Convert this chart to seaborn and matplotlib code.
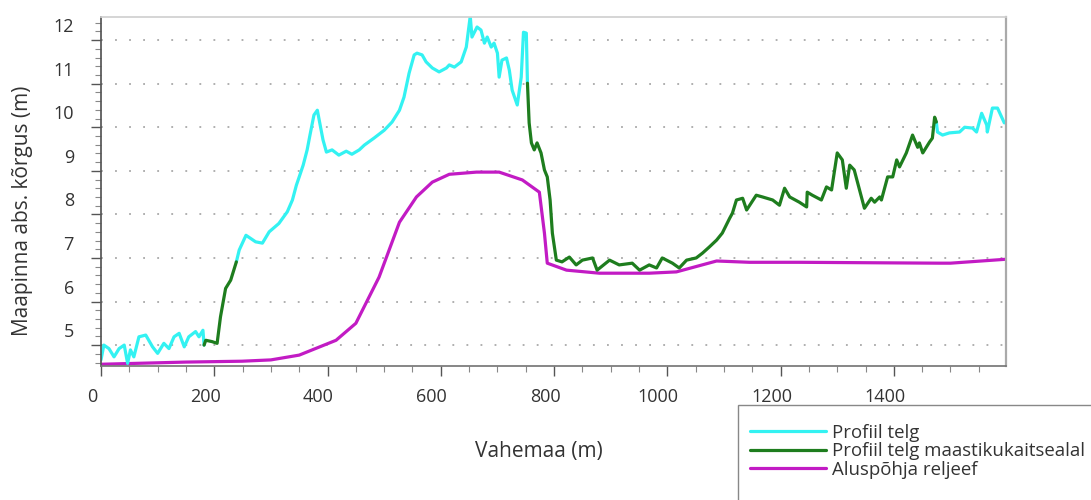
import numpy as np
import pandas as pd
import matplotlib
matplotlib.use('Agg')
import matplotlib.pyplot as plt
import matplotlib.transforms as mtransforms
from matplotlib.lines import Line2D
from matplotlib.patches import Rectangle
import seaborn as sns

# Ground profile along the axis (distance in m, elevation in m)
profile_dist = [0, 5, 14, 23, 32, 41, 47, 52, 58, 67, 79, 91, 100, 111, 120, 129, 138, 147, 155, 167, 173, 180,
                182, 185, 196, 205, 211, 220, 229, 239,
                244, 256, 273, 285, 297, 314, 329, 338, 345, 350, 357, 364, 369, 376, 382, 387, 392, 398,
                408, 420, 433, 443, 456, 465, 482, 500, 514, 527, 535, 544, 553, 558, 567, 574, 585, 597,
                610, 615, 624, 636, 645, 652, 655, 664, 671, 677, 682, 689, 694, 700, 703, 708, 716, 721,
                726, 735, 742, 746, 751, 753,
                756, 760, 765, 770, 777, 783, 788, 793, 797, 804, 814, 827, 839, 850, 868, 876, 898, 915,
                938, 951, 968, 981, 991, 1009, 1021, 1034, 1051, 1062, 1074, 1087, 1097, 1110, 1115, 1122,
                1133, 1140, 1157, 1168, 1186, 1198, 1207, 1216, 1233, 1246, 1247, 1256, 1272, 1281, 1290,
                1300, 1309, 1316, 1322, 1330, 1348, 1360, 1366, 1375, 1378, 1389, 1398, 1405, 1410, 1422,
                1433, 1442, 1445, 1451, 1463, 1468, 1472, 1475,
                1477, 1486, 1498, 1516, 1525, 1539, 1546, 1555, 1564, 1565, 1574, 1583, 1595]
profile_elev = [4.66, 5.0, 4.92, 4.73, 4.92, 5.0, 4.58, 4.89, 4.73, 5.19, 5.23, 4.96, 4.81, 5.04, 4.92, 5.19,
                5.27, 4.96, 5.19, 5.31, 5.19, 5.34,
                5.0, 5.11, 5.08, 5.04, 5.65, 6.3, 6.49, 6.91,
                7.18, 7.52, 7.37, 7.34, 7.6, 7.79, 8.06, 8.33, 8.67, 8.86, 9.13, 9.48, 9.82, 10.28, 10.39,
                10.05, 9.71, 9.43,
                9.48, 9.36, 9.45, 9.38, 9.48, 9.59, 9.75, 9.93, 10.12, 10.39, 10.69, 11.24, 11.66, 11.70,
                11.66, 11.50, 11.36, 11.27, 11.36, 11.43, 11.38, 11.50, 11.84, 12.55, 12.07, 12.30, 12.23,
                11.93, 12.07, 11.84, 11.93, 11.70, 11.15, 11.54, 11.59, 11.31, 10.85, 10.51, 11.15, 12.18,
                12.16, 11.01,
                10.10, 9.64, 9.48, 9.64, 9.41, 9.02, 8.86, 8.33, 7.57, 6.95, 6.91, 7.02, 6.84, 6.95, 7.0,
                6.72, 6.95, 6.84, 6.88, 6.72, 6.84, 6.77, 7.0, 6.88, 6.77, 6.95, 7.0, 7.11, 7.25, 7.41,
                7.57, 7.91, 8.03, 8.33, 8.37, 8.10, 8.44, 8.40, 8.33, 8.21, 8.60, 8.40, 8.28, 8.17, 8.51,
                8.44, 8.33, 8.63, 8.56, 9.41, 9.25, 8.60, 9.13, 9.02, 8.14, 8.37, 8.28, 8.40, 8.33, 8.86,
                8.86, 9.25, 9.09, 9.41, 9.82, 9.54, 9.64, 9.41, 9.66, 9.75, 10.23, 10.12,
                9.89, 9.82, 9.87, 9.89, 10.0, 9.98, 9.89, 10.32, 10.05, 9.89, 10.44, 10.44, 10.10]

# Parts of the profile inside the landscape protection area (start, end in m)
protected_zones = [(182, 239), (753, 1475)]

# Bedrock relief
bedrock_dist = [0, 150, 249, 300, 350, 415, 450, 491, 527, 557, 585, 615, 663, 703, 744, 774, 783, 788,
                822, 880, 968, 1016, 1087, 1145, 1233, 1480, 1500, 1598]
bedrock_elev = [4.56, 4.61, 4.63, 4.66, 4.77, 5.11, 5.50, 6.56, 7.82, 8.40, 8.74, 8.92, 8.97, 8.97, 8.79,
                8.51, 7.57, 6.88, 6.72, 6.65, 6.65, 6.68, 6.93, 6.90, 6.90, 6.88, 6.88, 6.97]

labels = ['Profiil telg', 'Profiil telg maastikukaitsealal', 'Aluspõhja reljeef']
colors = ['#33F2F2', '#1E7D1E', '#C21BC4']

# Split the profile into segments, sharing the boundary points
profile = pd.DataFrame({'dist': profile_dist, 'elev': profile_elev})
cuts = [0] + [b for z in protected_zones for b in z] + [profile['dist'].max()]
parts = []
for i in range(len(cuts) - 1):
    part = profile[(profile['dist'] >= cuts[i]) & (profile['dist'] <= cuts[i + 1])].copy()
    part['segment'] = i
    part['series'] = labels[1] if i % 2 == 1 else labels[0]
    parts.append(part)
profile_df = pd.concat(parts, ignore_index=True)
bedrock_df = pd.DataFrame({'dist': bedrock_dist, 'elev': bedrock_elev})

sns.set_theme(style='white')
plt.rcParams['font.family'] = ['Open Sans', 'DejaVu Sans']
text_color = '#333333'
lw = 2.3

fig, ax = plt.subplots(figsize=(10.91, 5.0), dpi=100)
fig.subplots_adjust(left=101 / 1091, right=1006 / 1091, top=1 - 17 / 500, bottom=1 - 366 / 500)

sns.lineplot(data=bedrock_df, x='dist', y='elev', color=colors[2], linewidth=lw, ax=ax,
             estimator=None, sort=False)
sns.lineplot(data=profile_df, x='dist', y='elev', hue='series', units='segment', estimator=None, sort=False,
             palette={labels[0]: colors[0], labels[1]: colors[1]}, linewidth=lw, legend=False, ax=ax)

ax.set_xlim(0, 1598)
ax.set_ylim(4.52, 12.53)
ax.set_xticks(range(0, 1600, 200))
ax.set_xticks(np.arange(0, 1600, 50), minor=True)
ax.set_yticks(range(5, 13))
ax.set_yticks(np.arange(4.6, 12.6, 0.2), minor=True)
ax.tick_params(which='major', direction='out', length=7.5, width=1, color='#555555',
               labelsize=13, labelcolor=text_color, left=True, bottom=True)
ax.tick_params(which='minor', direction='out', length=4, width=0.8, color='#888888', left=True, bottom=True)
ax.tick_params(axis='y', which='major', pad=12)
ax.tick_params(axis='x', which='major', pad=8)

# tick labels sit a bit off their ticks, like in the original chart
dy = mtransforms.ScaledTranslation(0, 0.15, fig.dpi_scale_trans)
for lab in ax.get_yticklabels():
    lab.set_transform(lab.get_transform() + dy)
dx = mtransforms.ScaledTranslation(-0.09, 0, fig.dpi_scale_trans)
for lab in ax.get_xticklabels():
    lab.set_transform(lab.get_transform() + dx)

ax.yaxis.grid(True, linestyle=(0, (1.2, 8)), color='#9a9a9a', linewidth=1.1)
ax.xaxis.grid(False)

ax.spines['left'].set_color('#555555')
ax.spines['bottom'].set_color('#777777')
ax.spines['top'].set_color('#d0d0d0')
ax.spines['right'].set_color('#aaaaaa')
ax.spines['right'].set_linewidth(1.6)

ax.set_xlabel('Vahemaa (m)', fontsize=15, color=text_color)
ax.xaxis.label.set_va('center')
ax.xaxis.set_label_coords((539 - 101) / 905, -(452 - 366) / 349)
ax.set_ylabel('Maapinna abs. kõrgus (m)', fontsize=15, color=text_color)
ax.yaxis.label.set_va('center')
ax.yaxis.set_label_coords((23 - 101) / 905, (366 - 211) / 349)

# legend box runs off the right and bottom edges of the picture
fig.patches.append(Rectangle((738 / 1091, -0.1), 0.5, 1 - 405 / 500 + 0.1, transform=fig.transFigure,
                             fill=False, edgecolor='#888888', linewidth=1.0))
handles = [Line2D([], [], color=c, linewidth=lw) for c in colors]
leg = fig.legend(handles, labels, loc='upper left', bbox_to_anchor=(742.5 / 1091, 1 - 416.5 / 500),
                 fontsize=13.4, frameon=False, handlelength=4.1, handletextpad=0.3,
                 labelspacing=0.02, borderpad=0.4, borderaxespad=0, labelcolor=text_color)

fig.savefig('out.png', dpi=100)
